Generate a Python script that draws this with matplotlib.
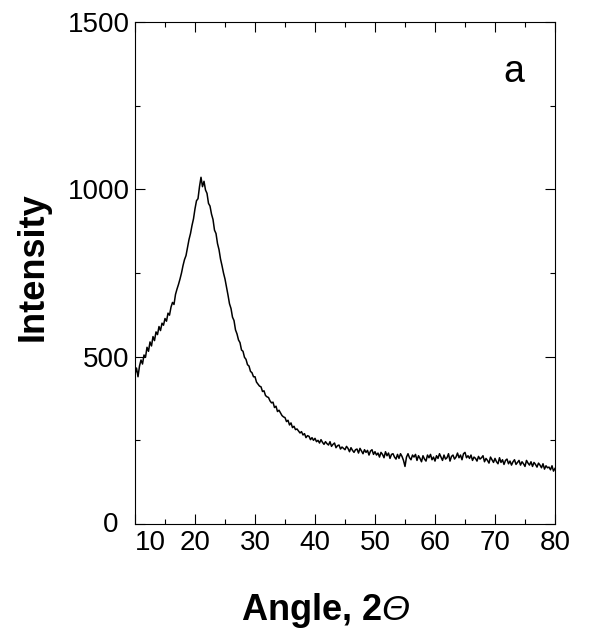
import matplotlib
matplotlib.use("Agg")
import matplotlib.pyplot as plt
from matplotlib.ticker import MultipleLocator
from matplotlib.transforms import ScaledTranslation

plt.rcParams["font.family"] = ["Liberation Sans", "DejaVu Sans"]
plt.rcParams["mathtext.fontset"] = "custom"
# upright Greek capitals come from the "rm" slot, point it at the italic face
plt.rcParams["mathtext.rm"] = "Liberation Sans:italic"
plt.rcParams["mathtext.it"] = "Liberation Sans:italic"

# ─── data: 2θ from 10 to 80 in 0.25° steps ───
x_start, x_step = 10.0, 0.25
intensity = [
    448, 466, 440, 472,    # 10
    490, 478, 505, 498,    # 11
    528, 516, 544, 532,    # 12
    560, 548, 574, 566,    # 13
    590, 578, 600, 594,    # 14
    614, 606, 630, 624,    # 15
    648, 662, 656, 686,    # 16
    702, 716, 732, 750,    # 17
    772, 790, 802, 826,    # 18
    850, 868, 892, 912,    # 19
    942, 966, 972, 1008,   # 20
    1036, 1008, 1024, 998, # 21
    988, 958, 950, 926,    # 22
    910, 878, 868, 838,    # 23
    820, 792, 772, 750,    # 24
    732, 708, 684, 658,    # 25
    644, 618, 608, 580,    # 26
    568, 550, 542, 520,    # 27
    516, 498, 492, 476,    # 28
    472, 456, 452, 440,    # 29
    440, 424, 418, 412,    # 30
    410, 396, 398, 384,    # 31
    380, 378, 368, 362,    # 32
    364, 348, 352, 336,    # 33
    340, 332, 324, 320,    # 34
    318, 306, 310, 296,    # 35
    302, 288, 292, 282,    # 36
    284, 278, 272, 276,    # 37
    266, 270, 258, 264,    # 38
    262, 252, 258, 250,    # 39
    256, 246, 250, 242,    # 40
    252, 244, 238, 246,    # 41
    240, 236, 246, 232,    # 42
    238, 242, 228, 234,    # 43
    236, 224, 230, 226,    # 44
    222, 232, 226, 216,    # 45
    228, 220, 214, 222,    # 46
    224, 212, 226, 218,    # 47
    210, 222, 214, 220,    # 48
    206, 218, 222, 208,    # 49
    216, 206, 212, 200,    # 50
    214, 208, 198, 216,    # 51
    204, 212, 196, 208,    # 52
    210, 200, 194, 208,    # 53
    196, 210, 202, 190,    # 54
    172, 200, 210, 198,    # 55
    192, 206, 200, 208,    # 56
    190, 204, 196, 186,    # 57
    204, 194, 188, 206,    # 58
    198, 208, 192, 200,    # 59
    188, 204, 196, 210,    # 60
    200, 190, 206, 194,    # 61
    198, 210, 188, 202,    # 62
    206, 194, 200, 212,    # 63
    198, 206, 192, 210,    # 64
    214, 198, 204, 196,    # 65
    206, 190, 200, 196,    # 66
    188, 202, 194, 198,    # 67
    204, 186, 196, 190,    # 68
    182, 200, 192, 184,    # 69
    196, 186, 180, 198,    # 70
    184, 192, 178, 190,    # 71
    194, 180, 188, 176,    # 72
    186, 192, 178, 184,    # 73
    190, 176, 186, 180,    # 74
    172, 190, 182, 176,    # 75
    186, 172, 184, 178,    # 76
    170, 182, 176, 168,    # 77
    180, 164, 174, 168,    # 78
    170, 162, 174, 158,    # 79
    166,                   # 80
]
angle = [x_start + i * x_step for i in range(len(intensity))]

x_ticks = [10, 20, 30, 40, 50, 60, 70, 80]
y_ticks = [0, 500, 1000, 1500]
panel_label = "a"

# ─── figure ───
fig = plt.figure(figsize=(5.91, 6.30), dpi=100)
ax = fig.add_axes([135 / 591, 1 - 524 / 630, 420 / 591, 502 / 630])

ax.plot(angle, intensity, color="black", linewidth=1.1)

ax.set_xlim(10, 80)
ax.set_ylim(0, 1500)
ax.set_xticks(x_ticks)
ax.set_yticks(y_ticks)
ax.xaxis.set_minor_locator(MultipleLocator(5))
ax.yaxis.set_minor_locator(MultipleLocator(250))
ax.tick_params(which="both", direction="in", top=True, right=True,
               width=0.8, labelsize=20)
ax.tick_params(which="major", length=7)
ax.tick_params(which="minor", length=3.5)
ax.tick_params(axis="x", pad=4)
ax.tick_params(axis="y", pad=4)
for sp in ax.spines.values():
    sp.set_linewidth(0.8)

# the corner labels "0" and "10" are pushed apart like in the original
ax.xaxis.get_major_ticks()[0].label1.set_horizontalalignment("left")
ylab0 = ax.yaxis.get_major_ticks()[0].label1
ylab0.set_transform(ylab0.get_transform()
                    + ScaledTranslation(-0.11, 0.02, fig.dpi_scale_trans))

fig.text(33 / 591, 1 - 267 / 630, "Intensity", rotation=90,
         ha="center", va="center", fontsize=26, fontweight="bold")
fig.text(326 / 591, 1 - 620 / 630, r"Angle, 2$\Theta$",
         ha="center", va="baseline", fontsize=26, fontweight="bold")
fig.text(514 / 591, 1 - 82 / 630, panel_label,
         ha="center", va="baseline", fontsize=27)

fig.savefig("out.png", dpi=100)
